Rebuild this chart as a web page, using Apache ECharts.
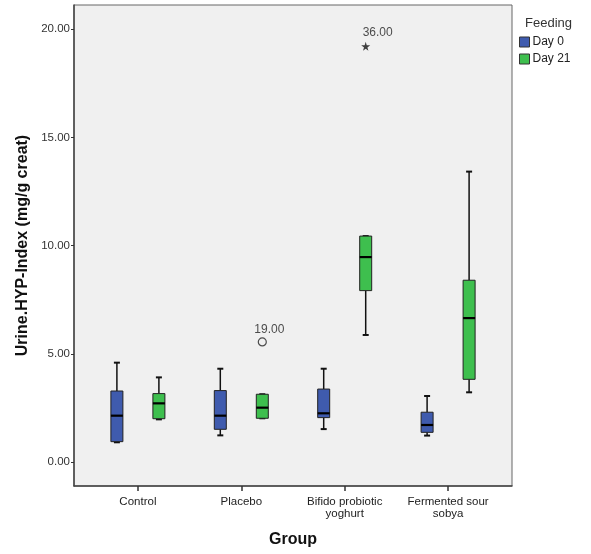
<!DOCTYPE html>
<html>
<head>
<meta charset="utf-8">
<script src="https://cdn.jsdelivr.net/npm/echarts@6/dist/echarts.min.js"></script>
<style>
html,body{margin:0;padding:0;background:#fff;}
#chart{width:591px;height:554px;}
</style>
</head>
<body>
<div id="chart"></div>
<script>
// Categories
const categories = ['Control', 'Placebo', 'Bifido probiotic\nyoghurt', 'Fermented sour\nsobya'];
// Box statistics per category: [min, Q1, median, Q3, max]
const day0Stats = [
  [0.91, 0.94, 2.14, 3.28, 4.59],
  [1.23, 1.51, 2.14, 3.30, 4.31],
  [1.52, 2.05, 2.25, 3.37, 4.31],
  [1.22, 1.37, 1.71, 2.30, 3.05]
];
const day21Stats = [
  [1.97, 2.00, 2.71, 3.16, 3.91],
  [2.02, 2.02, 2.51, 3.13, 3.13],
  [5.87, 7.92, 9.47, 10.44, 10.44],
  [3.22, 3.82, 6.65, 8.40, 13.42]
];
// Outliers (Day 21): category index, value, case label
const outlierCircleCat = [1];
const outlierCircleVal = [5.55];
const outlierCircleLabel = ['19.00'];
const outlierStarCat = [2];
const outlierStarVal = [19.21];
const outlierStarLabel = ['36.00'];
// Tick values
const yTicks = [0, 5, 10, 15, 20];
const xTicks = [0, 1, 2, 3];
const seriesNames = ['Day 0', 'Day 21'];

const FONT = 'Arial, "Liberation Sans", sans-serif';
const BLUE = '#3F5BAE';
const GREEN = '#3EBF4E';
const OFFSET = 21;

function toData(stats) {
  return stats.map((s, i) => [i, s[0], s[1], s[2], s[3], s[4]]);
}

function makeRender(offset, color) {
  return function (params, api) {
    const x = api.value(0);
    const lo = api.coord([x, api.value(1)]);
    const q1 = api.coord([x, api.value(2)]);
    const md = api.coord([x, api.value(3)]);
    const q3 = api.coord([x, api.value(4)]);
    const hi = api.coord([x, api.value(5)]);
    const cx = lo[0] + offset;
    const half = 6;
    const cap = 3;
    const lineStyle = { stroke: '#111', lineWidth: 1.5 };
    return {
      type: 'group',
      children: [
        { type: 'line', shape: { x1: cx, y1: hi[1], x2: cx, y2: q3[1] }, style: lineStyle },
        { type: 'line', shape: { x1: cx, y1: q1[1], x2: cx, y2: lo[1] }, style: lineStyle },
        { type: 'line', shape: { x1: cx - cap, y1: hi[1], x2: cx + cap, y2: hi[1] }, style: { stroke: '#111', lineWidth: 2 } },
        { type: 'line', shape: { x1: cx - cap, y1: lo[1], x2: cx + cap, y2: lo[1] }, style: { stroke: '#111', lineWidth: 2 } },
        { type: 'rect', shape: { x: cx - half, y: q3[1], width: half * 2, height: q1[1] - q3[1] },
          style: { fill: color, stroke: '#222', lineWidth: 1 } },
        { type: 'line', shape: { x1: cx - half, y1: md[1], x2: cx + half, y2: md[1] }, style: { stroke: '#000', lineWidth: 2.2 } }
      ]
    };
  };
}

const chart = echarts.init(document.getElementById('chart'), null, { renderer: 'canvas' });
chart.setOption({
  backgroundColor: '#ffffff',
  animation: false,
  textStyle: { fontFamily: FONT },
  title: {
    text: 'Feeding', left: 520, top: 12,
    textStyle: { fontSize: 13, fontWeight: 'normal', color: '#333', fontFamily: FONT }
  },
  legend: {
    data: seriesNames, orient: 'vertical', left: 519, top: 36,
    icon: 'rect', itemWidth: 10, itemHeight: 10, itemGap: 5, padding: 0,
    itemStyle: { borderColor: '#333', borderWidth: 1 },
    textStyle: { fontSize: 12, color: '#222', fontFamily: FONT, padding: [0, 0, 0, -2] }
  },
  grid: {
    left: 74, top: 5, width: 438, height: 481,
    show: true, backgroundColor: '#F0F0F0', borderColor: '#666', borderWidth: 1
  },
  xAxis: {
    type: 'value', min: -0.618, max: 3.618,
    name: 'Group', nameLocation: 'middle', nameGap: 46,
    nameTextStyle: { fontSize: 16, fontWeight: 'bold', color: '#111', fontFamily: FONT },
    splitLine: { show: false },
    axisLine: { show: true, onZero: false, lineStyle: { color: '#444', width: 1.5 } },
    axisTick: { show: true, customValues: xTicks, length: 5, lineStyle: { color: '#333', width: 1.5 } },
    axisLabel: {
      customValues: xTicks, margin: 10, fontSize: 11.5, color: '#222', lineHeight: 12, fontFamily: FONT,
      formatter: v => categories[Math.round(v)]
    }
  },
  yAxis: {
    type: 'value', min: -1.11, max: 21.12,
    name: 'Urine.HYP-Index (mg/g creat)', nameLocation: 'middle', nameGap: 38,
    nameTextStyle: { fontSize: 16, fontWeight: 'bold', color: '#111', fontFamily: FONT },
    splitLine: { show: false },
    axisLine: { show: true, onZero: false, lineStyle: { color: '#444', width: 1.5 } },
    axisTick: { show: true, customValues: yTicks, length: 3, lineStyle: { color: '#333' } },
    axisLabel: {
      customValues: yTicks, margin: 4, fontSize: 11.5, color: '#333', fontFamily: FONT,
      formatter: v => v.toFixed(2)
    }
  },
  series: [
    {
      name: 'Day 0', type: 'custom', itemStyle: { color: BLUE },
      encode: { x: 0, y: [1, 2, 3, 4, 5] },
      renderItem: makeRender(-OFFSET, BLUE), data: toData(day0Stats)
    },
    {
      name: 'Day 21', type: 'custom', itemStyle: { color: GREEN },
      encode: { x: 0, y: [1, 2, 3, 4, 5] },
      renderItem: makeRender(OFFSET, GREEN), data: toData(day21Stats)
    },
    {
      name: 'outlier', type: 'scatter', symbol: 'circle', symbolSize: 8,
      symbolOffset: [OFFSET, 0],
      itemStyle: { color: 'rgba(0,0,0,0)', borderColor: '#222', borderWidth: 1.2 },
      label: {
        show: true, position: 'top', distance: 2, offset: [7, 0],
        fontSize: 12, color: '#222', fontFamily: FONT,
        formatter: p => outlierCircleLabel[p.dataIndex]
      },
      data: outlierCircleCat.map((c, i) => [c, outlierCircleVal[i]])
    },
    {
      name: 'extreme', type: 'scatter',
      symbol: 'path://M50,0 L61,35 L98,35 L68,57 L79,91 L50,70 L21,91 L32,57 L2,35 L39,35 Z',
      symbolSize: 9, symbolOffset: [OFFSET, 0],
      itemStyle: { color: '#111' },
      label: {
        show: true, position: 'top', distance: 3, offset: [12, 0],
        fontSize: 12, color: '#222', fontFamily: FONT,
        formatter: p => outlierStarLabel[p.dataIndex]
      },
      data: outlierStarCat.map((c, i) => [c, outlierStarVal[i]])
    }
  ]
});
</script>
</body>
</html>
